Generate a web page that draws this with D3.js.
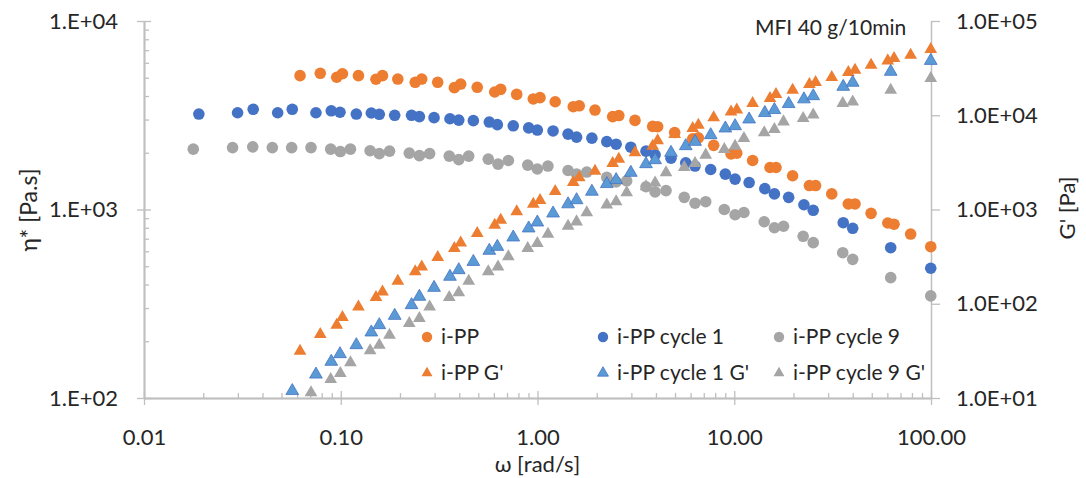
<!DOCTYPE html>
<html>
<head>
<meta charset="utf-8">
<script src="https://cdn.jsdelivr.net/npm/d3@7"></script>
<style>
  html, body { margin: 0; padding: 0; background: #fff; }
  svg { display: block; font-family: Lato, "Open Sans", sans-serif; }
</style>
</head>
<body>
<svg id="chart" width="1086" height="478"></svg>
<script>
// ---------------- data ----------------
const omegaPP = [0.0621, 0.0787, 0.0954, 0.102, 0.123, 0.151, 0.163, 0.195, 0.239, 0.258, 0.311, 0.378, 0.407, 0.494, 0.606, 0.650, 0.784, 0.952, 1.03, 1.23, 1.52, 1.63, 1.96, 2.41, 2.59, 3.13, 3.85, 4.08, 4.98, 6.15, 6.57, 7.86, 9.63, 10.3, 12.4, 15.2, 16.3, 19.8, 24.1, 25.9, 31.3, 38.0, 41.1, 49.6, 60.3, 64.9, 78.8, 99.7];
const etaPP = [5130, 5280, 5030, 5250, 5130, 4910, 5130, 4920, 4730, 4920, 4730, 4430, 4630, 4450, 4200, 4340, 4080, 3860, 3920, 3730, 3510, 3550, 3370, 3110, 3150, 2970, 2760, 2750, 2560, 2370, 2400, 2190, 1970, 1990, 1820, 1670, 1670, 1510, 1340, 1340, 1210, 1070, 1070, 954, 848, 835, 741, 635];
const gPP = [31.5, 47.4, 59.5, 71.8, 93.0, 117, 134, 174, 219, 247, 311, 388, 444, 559, 685, 774, 948, 1140, 1250, 1560, 1940, 2180, 2560, 3090, 3430, 4010, 4720, 5370, 6280, 7270, 7880, 9420, 10900, 11400, 13400, 15100, 16700, 18500, 21300, 22400, 25300, 28600, 30200, 34100, 37900, 40200, 43600, 50100];

const omegaC1 = [0.0190, 0.0299, 0.0359, 0.0478, 0.0567, 0.0748, 0.0895, 0.0991, 0.120, 0.143, 0.157, 0.188, 0.229, 0.251, 0.298, 0.359, 0.398, 0.472, 0.569, 0.625, 0.753, 0.902, 0.998, 1.20, 1.43, 1.58, 1.89, 2.25, 2.51, 2.98, 3.56, 3.96, 4.77, 5.67, 6.32, 7.59, 9.01, 10.1, 11.9, 14.3, 16.0, 18.9, 22.6, 25.2, 35.8, 40.0, 62.4, 99.7];
const etaC1 = [3210, 3260, 3400, 3260, 3400, 3260, 3340, 3280, 3210, 3250, 3200, 3160, 3160, 3110, 3070, 3030, 2980, 2960, 2910, 2820, 2780, 2710, 2640, 2610, 2510, 2420, 2390, 2290, 2220, 2140, 2040, 1950, 1870, 1770, 1700, 1630, 1540, 1450, 1390, 1290, 1210, 1160, 1060, 990, 851, 795, 627, 488];
const gC1 = [null, null, null, null, 11.9, 17.8, 24.3, 29.3, 36.5, 49.8, 59.5, 74.7, 97.0, 119, 148, 194, 228, 279, 366, 403, 507, 632, 731, 911, 1140, 1260, 1550, 1870, 2060, 2460, 3040, 3350, 4010, 4720, 5240, 6170, 7270, 7690, 9060, 10600, 11400, 13200, 14800, 16000, 20100, 22200, 29000, 37900];

const omegaC9 = [0.0178, 0.0282, 0.0357, 0.0449, 0.0563, 0.0706, 0.0889, 0.0995, 0.112, 0.141, 0.157, 0.177, 0.223, 0.251, 0.283, 0.356, 0.398, 0.447, 0.562, 0.630, 0.711, 0.892, 0.998, 1.13, 1.43, 1.58, 1.78, 2.25, 2.51, 2.84, 3.56, 3.96, 4.50, 5.57, 6.32, 7.16, 8.90, 10.1, 11.2, 14.2, 16.0, 17.8, 22.4, 25.2, 35.6, 40.0, 62.4, 99.7];
const etaC9 = [2090, 2130, 2150, 2130, 2130, 2130, 2090, 2030, 2090, 2050, 1980, 2040, 1990, 1930, 1980, 1920, 1840, 1920, 1850, 1740, 1820, 1720, 1640, 1700, 1610, 1540, 1580, 1480, 1400, 1420, 1320, 1240, 1260, 1160, 1080, 1100, 1000, 938, 964, 861, 800, 815, 721, 667, 590, 544, 435, 348];
const gC9 = [null, null, null, null, null, 11.4, 15.8, 18.3, 23.7, 31.8, 36.5, 46.6, 62.0, 70.1, 93.0, 117, 131, 174, 219, 247, 316, 388, 438, 547, 668, 742, 925, 1120, 1210, 1510, 1750, 1920, 2460, 2800, 3090, 3790, 4350, 4720, 5690, 6530, 7090, 8540, 9280, 10100, 13400, 13900, 18500, 24700];

const xTickValues = [0.01, 0.1, 1, 10, 100];
const xTickLabels = ["0.01", "0.10", "1.00", "10.00", "100.00"];
const yLeftTickValues = [100, 1000, 10000];
const yLeftTickLabels = ["1.E+02", "1.E+03", "1.E+04"];
const yRightTickValues = [10, 100, 1000, 10000, 100000];
const yRightTickLabels = ["1.0E+01", "1.0E+02", "1.0E+03", "1.0E+04", "1.0E+05"];

const seriesNames = ["i-PP", "i-PP cycle 1", "i-PP cycle 9", "i-PP G'", "i-PP cycle 1 G'", "i-PP cycle 9 G'"];
const xTitle = "ω [rad/s]";
const yLeftTitle = "η* [Pa.s]";
const yRightTitle = "G' [Pa]";
const noteText = "MFI 40 g/10min";

// ---------------- layout / styles ----------------
const L = 144, R = 931, T = 21, B = 398;
const axisColor = "#BFBFBF";
const textColor = "#262626";
const FONT = 22;

const svg = d3.select("#chart");

const x = d3.scaleLog().domain([0.01, 100]).range([L, R]);
const yL = d3.scaleLog().domain([100, 10000]).range([B, T]);
const yR = d3.scaleLog().domain([10, 100000]).range([B, T]);

function minorTicks(lo, hi) {
  const out = [];
  for (let e = Math.log10(lo); e < Math.log10(hi); e++) {
    for (let m = 2; m <= 9; m++) out.push(m * Math.pow(10, e));
  }
  return out;
}

function styleAxis(g) {
  g.select(".domain").attr("stroke", axisColor).attr("stroke-width", 1.5);
  g.selectAll(".tick line").attr("stroke", axisColor).attr("stroke-width", 1.3);
  g.selectAll("text").attr("fill", textColor).style("font-size", FONT + "px").style("font-family", "Lato");
}

// bottom axis: minor (inside), major crossing
svg.append("g").attr("transform", `translate(0,${B})`)
  .call(d3.axisBottom(x).tickValues(minorTicks(0.01, 100)).tickSize(-5).tickFormat("").tickSizeOuter(0))
  .call(styleAxis);
svg.append("g").attr("transform", `translate(0,${B})`)
  .call(d3.axisBottom(x).tickValues(xTickValues).tickSize(-7).tickFormat("").tickSizeOuter(0))
  .call(styleAxis);
svg.append("g").attr("transform", `translate(0,${B})`)
  .call(d3.axisBottom(x).tickValues(xTickValues).tickSize(7).tickPadding(24)
    .tickFormat((d, i) => xTickLabels[i]).tickSizeOuter(0))
  .call(styleAxis);

// left axis
svg.append("g").attr("transform", `translate(${L},0)`)
  .call(d3.axisLeft(yL).tickValues(minorTicks(100, 10000)).tickSize(-5).tickFormat("").tickSizeOuter(0))
  .call(styleAxis);
svg.append("g").attr("transform", `translate(${L},0)`)
  .call(d3.axisLeft(yL).tickValues(yLeftTickValues).tickSize(-7).tickFormat("").tickSizeOuter(0))
  .call(styleAxis);
svg.append("g").attr("transform", `translate(${L},0)`)
  .call(d3.axisLeft(yL).tickValues(yLeftTickValues).tickSize(7).tickPadding(19)
    .tickFormat((d, i) => yLeftTickLabels[i]).tickSizeOuter(0))
  .call(styleAxis);

// right axis
svg.append("g").attr("transform", `translate(${R},0)`)
  .call(d3.axisRight(yR).tickValues(yRightTickValues).tickSize(9).tickPadding(16)
    .tickFormat((d, i) => yRightTickLabels[i]).tickSizeOuter(0))
  .call(styleAxis);

// axis titles
svg.append("text").attr("x", (L + R) / 2).attr("y", 472).attr("text-anchor", "middle")
  .attr("fill", textColor).style("font-size", FONT + "px").text(xTitle);
svg.append("text").attr("transform", `translate(37,210) rotate(-90)`).attr("text-anchor", "middle")
  .attr("fill", textColor).style("font-size", "23px").text(yLeftTitle);
svg.append("text").attr("transform", `translate(1075,208) rotate(-90)`).attr("text-anchor", "middle")
  .attr("fill", textColor).style("font-size", FONT + "px").text(yRightTitle);

// note
svg.append("text").attr("x", 755).attr("y", 35).attr("fill", textColor)
  .style("font-size", "21px").text(noteText);

// ---------------- series ----------------
const colors = {
  pp: "#ED7D31", c1: "#4472C4", c9: "#A5A5A5",
  ppG: "#ED7D31", c1G: "#5B9BD5", c9G: "#A5A5A5"
};
const strokes = { ppG: "none", c1G: "#4472C4", c9G: "none" };

function zip(xs, ys) {
  return xs.map((w, i) => ({ w: w, v: ys[i] })).filter(d => d.v != null);
}

const circleSeries = [
  { data: zip(omegaPP, etaPP), color: colors.pp },
  { data: zip(omegaC1, etaC1), color: colors.c1 },
  { data: zip(omegaC9, etaC9), color: colors.c9 }
];
const triSeries = [
  { data: zip(omegaPP, gPP), color: colors.ppG, stroke: strokes.ppG },
  { data: zip(omegaC1, gC1), color: colors.c1G, stroke: strokes.c1G },
  { data: zip(omegaC9, gC9), color: colors.c9G, stroke: strokes.c9G }
];

const plot = svg.append("g");
circleSeries.forEach(s => {
  plot.append("g").selectAll("circle").data(s.data).join("circle")
    .attr("cx", d => x(d.w)).attr("cy", d => yL(d.v)).attr("r", 5.8)
    .attr("fill", s.color);
});
const tri = d3.symbol().type(d3.symbolTriangle).size(70);
triSeries.forEach(s => {
  plot.append("g").selectAll("path").data(s.data.filter(d => d.v >= 10 && d.v <= 100000)).join("path")
    .attr("transform", d => `translate(${x(d.w)},${yR(d.v)})`)
    .attr("d", tri).attr("fill", s.color)
    .attr("stroke", s.stroke).attr("stroke-width", 0.8);
});

// ---------------- legend ----------------
const legCols = [427, 603, 779];
const legRows = [337, 373];
const legendItems = [
  { name: seriesNames[0], shape: "c", color: colors.pp, col: 0, row: 0 },
  { name: seriesNames[1], shape: "c", color: colors.c1, col: 1, row: 0 },
  { name: seriesNames[2], shape: "c", color: colors.c9, col: 2, row: 0 },
  { name: seriesNames[3], shape: "t", color: colors.ppG, stroke: strokes.ppG, col: 0, row: 1 },
  { name: seriesNames[4], shape: "t", color: colors.c1G, stroke: strokes.c1G, col: 1, row: 1 },
  { name: seriesNames[5], shape: "t", color: colors.c9G, stroke: strokes.c9G, col: 2, row: 1 }
];
const leg = svg.append("g");
const legTri = d3.symbol().type(d3.symbolTriangle).size(52);
legendItems.forEach(it => {
  const cx = legCols[it.col], cy = legRows[it.row];
  if (it.shape === "c") {
    leg.append("circle").attr("cx", cx).attr("cy", cy).attr("r", 5.2).attr("fill", it.color);
  } else {
    leg.append("path").attr("transform", `translate(${cx},${cy})`).attr("d", legTri)
      .attr("fill", it.color).attr("stroke", it.stroke || "none").attr("stroke-width", 0.8);
  }
  leg.append("text").attr("x", cx + 14).attr("y", cy).attr("dy", "0.35em")
    .attr("fill", textColor).style("font-size", "21px").text(it.name);
});
</script>
</body>
</html>
